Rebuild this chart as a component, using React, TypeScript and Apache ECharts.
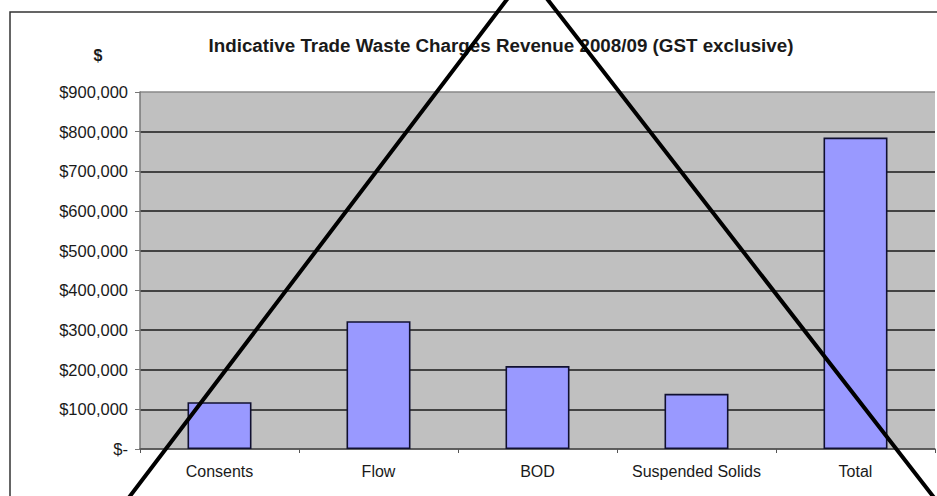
import React, { useEffect, useRef } from "react";
import * as echarts from "echarts";

const categories = ["Consents", "Flow", "BOD", "Suspended Solids", "Total"];
const revenue = [118000, 322000, 209000, 139000, 785000];
const yMin = 0;
const yMax = 900000;
const yStep = 100000;
const titleText = "Indicative Trade Waste Charges Revenue 2008/09 (GST exclusive)";

export default function App() {
  const ref = useRef<HTMLDivElement>(null);
  useEffect(() => {
    document.body.style.margin = "0";
    if (!ref.current) return;
    const chart = echarts.init(ref.current, undefined, { renderer: "svg" });
    const font = "'Liberation Sans', Arial, sans-serif";
    chart.setOption({
      animation: false,
      backgroundColor: "#ffffff",
      title: {
        text: titleText,
        left: 496,
        top: 31,
        textAlign: "center",
        textStyle: { fontFamily: font, fontSize: 18.8, fontWeight: "bold", color: "#1a1a1a" },
      },
      grid: {
        left: 140,
        right: 2,
        top: 92,
        bottom: 47,
        show: true,
        backgroundColor: "#c0c0c0",
        borderWidth: 0,
      },
      xAxis: {
        type: "category",
        data: categories,
        axisLine: { show: true, lineStyle: { color: "#555", width: 1.5 } },
        axisTick: { show: true, length: 4, interval: 0, lineStyle: { color: "#555" } },
        axisLabel: { interval: 0, margin: 14, fontFamily: font, fontSize: 16, color: "#1a1a1a" },
      },
      yAxis: {
        type: "value",
        min: yMin,
        max: yMax,
        interval: yStep,
        axisLine: { show: true, lineStyle: { color: "#777", width: 1.5 } },
        axisTick: { show: true, length: 5, lineStyle: { color: "#777" } },
        axisLabel: {
          margin: 12,
          fontFamily: font,
          fontSize: 16.5,
          color: "#1a1a1a",
          formatter: (v: number) => (v === 0 ? "$-" : "$" + v.toLocaleString("en-US")),
        },
        splitLine: {
          show: true,
          lineStyle: {
            color: ["#555", "#1a1a1a", "#1a1a1a", "#1a1a1a", "#1a1a1a", "#1a1a1a", "#1a1a1a", "#1a1a1a", "#1a1a1a", "#888"],
            width: 1.6,
          },
        },
      },
      series: [
        {
          type: "bar",
          data: revenue,
          barWidth: 64,
          itemStyle: { color: "#9999ff", borderColor: "#101030", borderWidth: 1.6 },
        },
      ],
      graphic: [
        {
          type: "rect",
          shape: { x: 10, y: 12, width: 940, height: 500 },
          style: { fill: "none", stroke: "#333", lineWidth: 1.5 },
          silent: true,
        },
        {
          type: "text",
          style: {
            text: "$",
            x: 98,
            y: 55,
            align: "center",
            verticalAlign: "middle",
            font: "bold 16px 'Liberation Sans', Arial, sans-serif",
            fill: "#1a1a1a",
          },
        },
        {
          type: "polyline",
          shape: { points: [[124, 504], [527, -27], [939, 504]] },
          style: { stroke: "#000", lineWidth: 4, fill: "none" },
          z: 100,
          silent: true,
        },
      ],
    });
    return () => chart.dispose();
  }, []);
  return <div ref={ref} style={{ width: 937, height: 496 }} />;
}
